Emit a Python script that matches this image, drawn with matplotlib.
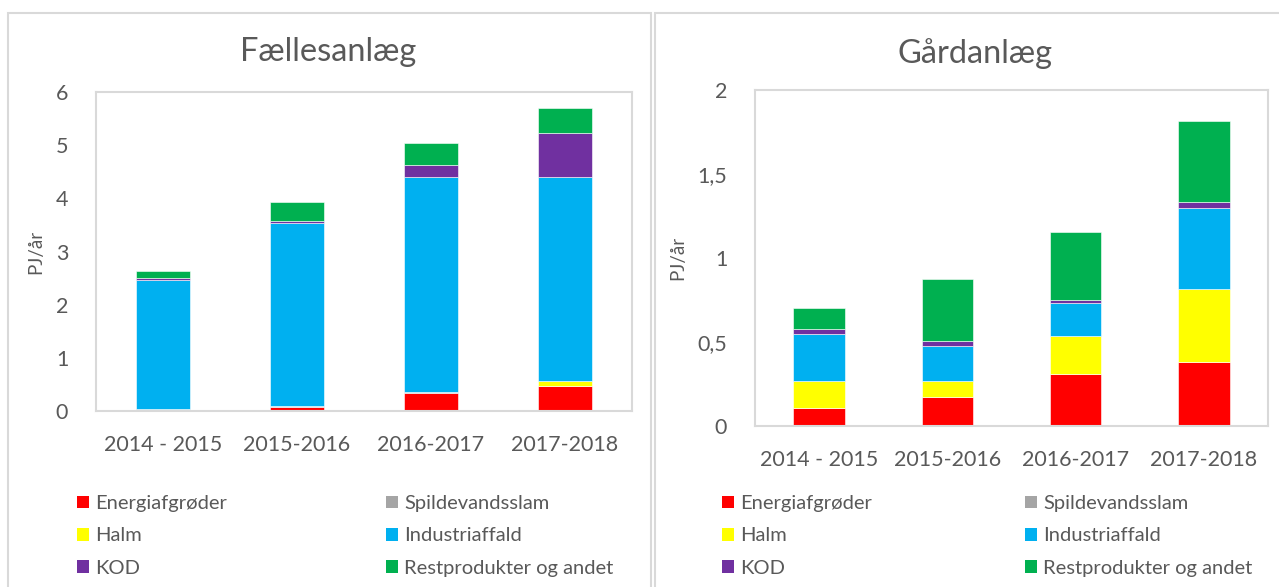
import numpy as np
import matplotlib

matplotlib.use('agg')
import matplotlib.pyplot as plt
from matplotlib.patches import Patch, Rectangle
from matplotlib.ticker import FuncFormatter

plt.rcParams['font.family'] = ['Lato', 'DejaVu Sans']

periods = ["2014 - 2015", "2015-2016", "2016-2017", "2017-2018"]
sources = ["Energiafgrøder", "Spildevandsslam", "Halm", "Industriaffald",
           "KOD", "Restprodukter og andet"]
colors = ["#FF0000", "#A5A5A5", "#FFFF00", "#00B0F0", "#7030A0", "#00B050"]

# PJ/år, one list per source (bottom to top)
faelles = {
    "Energiafgrøder": [0.04, 0.08, 0.33, 0.47],
    "Spildevandsslam": [0.00, 0.02, 0.02, 0.00],
    "Halm": [0.00, 0.00, 0.00, 0.09],
    "Industriaffald": [2.42, 3.43, 4.05, 3.84],
    "KOD": [0.04, 0.04, 0.22, 0.82],
    "Restprodukter og andet": [0.14, 0.36, 0.42, 0.48],
}
gaard = {
    "Energiafgrøder": [0.11, 0.17, 0.31, 0.38],
    "Spildevandsslam": [0.00, 0.00, 0.00, 0.00],
    "Halm": [0.16, 0.10, 0.225, 0.435],
    "Industriaffald": [0.28, 0.205, 0.20, 0.48],
    "KOD": [0.025, 0.03, 0.015, 0.04],
    "Restprodukter og andet": [0.13, 0.37, 0.405, 0.48],
}

text_col = "#595959"
grid_col = "#D9D9D9"

W, H = 1279, 587
fig = plt.figure(figsize=(W / 100, H / 100), dpi=100)


def px_box(x0, y0, x1, y1):
    return [x0 / W, 1 - y1 / H, (x1 - x0) / W, (y1 - y0) / H]


def comma(v, pos):
    s = "{:g}".format(v)
    return s.replace(".", ",")


def draw_panel(box, data, title, ylim, step, title_xy, leg_x, leg_y):
    ax = fig.add_axes(box)
    x = np.arange(len(periods))
    bottom = np.zeros(len(periods))
    for src, col in zip(sources, colors):
        vals = np.array(data[src])
        ax.bar(x, vals, 0.4, bottom=bottom, color=col, edgecolor="white",
               linewidth=0.4)
        bottom += vals
    ax.set_xlim(-0.5, len(periods) - 0.5)
    ax.set_ylim(0, ylim)
    ax.set_yticks(np.arange(0, ylim + step / 2, step))
    ax.yaxis.set_major_formatter(FuncFormatter(comma))
    ax.set_xticks(x)
    ax.set_xticklabels(periods)
    ax.tick_params(length=0, labelsize=15.5, colors=text_col)
    ax.tick_params(axis="x", pad=17)
    ax.tick_params(axis="y", pad=20)
    for s in ax.spines.values():
        s.set_color(grid_col)
        s.set_linewidth(1.5)
    ax.set_ylabel("PJ/år", fontsize=13.5, color=text_col, labelpad=8)
    fig.text(title_xy[0] / W, 1 - title_xy[1] / H, title, ha="center",
             va="center", fontsize=23.5, color=text_col)

    handles = [Patch(facecolor=c, edgecolor="none") for c in colors]
    for col_i, lx in enumerate(leg_x):
        idx = [col_i, col_i + 2, col_i + 4]
        leg = ax.legend([handles[i] for i in idx], [sources[i] for i in idx],
                        loc="upper left",
                        bbox_to_anchor=(lx / W, 1 - leg_y / H),
                        bbox_transform=fig.transFigure, frameon=False,
                        fontsize=14.5, labelcolor=text_col, borderpad=0,
                        handlelength=0.6, handleheight=0.6,
                        handletextpad=0.3, labelspacing=0.76,
                        borderaxespad=0)
        if col_i == 0:
            ax.add_artist(leg)
    return ax


draw_panel(px_box(96, 92, 632, 411), faelles, "Fællesanlæg", 6, 1,
           (328, 52), [77, 386], 495)
draw_panel(px_box(755, 90, 1268, 426), gaard, "Gårdanlæg", 2, 0.5,
           (975, 54), [722, 1025], 495)

# outer chart frames
fig.patches.append(Rectangle((8 / W, -0.05), 643 / W, 1 - 13 / H + 0.05,
                             transform=fig.transFigure, fill=False,
                             edgecolor=grid_col, linewidth=1.5))
fig.patches.append(Rectangle((655 / W, -0.05), 700 / W, 1 - 13 / H + 0.05,
                             transform=fig.transFigure, fill=False,
                             edgecolor=grid_col, linewidth=1.5))

fig.savefig("out.png", dpi=100)
